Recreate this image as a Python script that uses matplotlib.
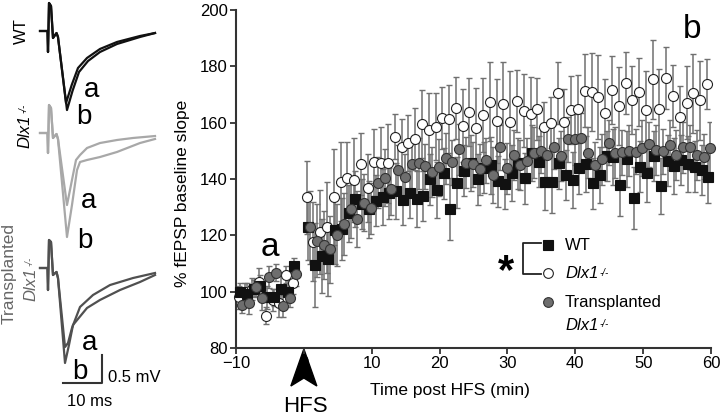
import numpy as np
import matplotlib.pyplot as plt
from matplotlib.lines import Line2D
from matplotlib.patches import Polygon
import matplotlib.transforms as mtransforms

plt.rcParams['font.family'] = ['Liberation Sans', 'DejaVu Sans']

W, H = 720, 418

# ---- data: % fEPSP slope vs time (min) ----
t_base = np.arange(-9.5, -1, 1.0)   # baseline samples
t_post = np.arange(0.5, 60, 1.0)    # samples after HFS

wt_base = [100, 99, 101, 102, 98, 98, 101, 100, 109]
wt_post = [123.1, 109.5, 112.7, 111.5, 121.9, 122.1, 127.8, 132.9, 131.1, 129.2,
           132.3, 133.5, 134.9, 135.7, 132.5, 135.1, 132.8, 134.0, 139.9, 136.1,
           142.0, 129.2, 138.7, 142.9, 145.6, 139.9, 144.0, 144.8, 139.2, 138.2,
           142.2, 145.6, 140.2, 149.3, 146.1, 139.0, 139.0, 145.6, 141.4, 139.6,
           143.8, 145.3, 138.5, 141.4, 148.2, 147.9, 137.9, 147.0, 133.3, 144.4,
           142.0, 148.2, 137.5, 146.5, 144.6, 146.7, 145.3, 144.4, 143.2, 140.6]
wt_base_err = [3, 4, 3, 4, 4, 3, 5, 4, 3]
wt_post_err = [12, 15, 13, 13, 12, 11, 10, 10, 9, 10, 9, 10, 9, 10, 9, 9, 10, 9, 9, 10,
               9, 11, 9, 9, 10, 9, 9, 10, 9, 9, 10, 9, 9, 10, 9, 10, 11, 9, 9, 10,
               9, 10, 9, 10, 9, 10, 11, 10, 11, 9, 10, 9, 10, 9, 10, 9, 10, 9, 9, 9]

ko_base = [98, 100, 101, 103.5, 91.5, 97, 96, 106, 103]
ko_post = [133.5, 117.7, 121.1, 122.8, 133.7, 139.0, 140.2, 139.6, 145.2, 136.7,
           145.9, 145.6, 145.6, 155.0, 151.2, 152.7, 154.1, 159.5, 157.4, 158.6,
           161.5, 161.2, 165.1, 158.9, 163.7, 158.2, 162.7, 167.4, 160.6, 166.5,
           160.3, 167.7, 164.2, 163.1, 164.7, 158.3, 160.0, 170.4, 160.1, 164.5,
           164.8, 171.3, 170.9, 169.2, 163.5, 171.6, 165.9, 174.2, 168.0, 170.9,
           164.5, 175.4, 164.9, 175.7, 169.5, 162.1, 167.1, 170.4, 168.0, 173.7]
ko_base_err = [4, 3, 4, 5, 3, 4, 5, 3, 4]
ko_post_err = [13, 14, 15, 16, 17, 14, 13, 15, 11, 12, 12, 13, 14, 8, 10, 10, 11, 12, 13, 12,
               11, 12, 11, 13, 12, 14, 13, 14, 15, 15, 18, 11, 13, 13, 11, 9, 9, 11, 12, 12,
               12, 13, 14, 15, 12, 12, 14, 11, 12, 12, 14, 14, 14, 11, 11, 11, 13, 14, 14, 9]

tr_base = [95.3, 96.1, 101.5, 97.6, 105.2, 106.7, 94.9, 97.6, 106.1]
tr_post = [122.8, 118.1, 116.6, 115.0, 120.1, 124.0, 129.2, 125.7, 131.6, 129.6,
           138.7, 140.5, 136.3, 143.2, 140.8, 145.3, 145.6, 144.6, 142.5, 144.1,
           147.3, 145.9, 150.5, 145.8, 145.3, 143.4, 146.6, 141.4, 151.2, 143.8,
           148.5, 145.0, 146.5, 149.3, 150.0, 148.5, 151.5, 148.2, 154.1, 154.1,
           154.4, 149.3, 145.0, 147.0, 152.9, 149.3, 149.5, 150.0, 149.7, 150.9,
           152.4, 150.3, 149.9, 152.1, 148.5, 151.2, 151.2, 148.5, 147.9, 151.1]
tr_base_err = [3, 4, 3, 4, 4, 3, 4, 3, 4]
tr_post_err = [13, 13, 12, 12, 11, 11, 10, 10, 10, 9, 9, 10, 9, 9, 8, 9, 9, 8, 9, 10,
               9, 8, 9, 9, 8, 9, 8, 10, 8, 9, 9, 9, 8, 9, 8, 10, 8, 9, 8, 9,
               9, 9, 8, 9, 8, 9, 8, 9, 8, 10, 8, 9, 8, 9, 9, 9, 8, 9, 8, 9]

# ---- example fEPSP traces (ms, mV), a = before, b = after HFS ----
stim_ms = [-2.05, -0.13, 0.0, 0.26, 0.77, 1.28, 2.18, 2.56]
wt_stim_mv = [0, 0, -0.375, 0.5, 0.446, -0.125, -0.036, -0.107]
wt_a_ms = [4.62, 6.08, 7.69, 10.0, 13.33, 17.69, 23.59, 27.44]
wt_a_mv = [-1.286, -0.964, -0.661, -0.482, -0.321, -0.196, -0.089, -0.036]
wt_b_ms = [4.87, 6.28, 7.95, 10.26, 13.33, 17.69, 23.59, 27.44]
wt_b_mv = [-1.411, -1.071, -0.732, -0.536, -0.375, -0.232, -0.107, -0.036]

ko_stim_mv = [0, 0, -0.357, 0.5, 0.446, -0.089, -0.018, -0.107]
ko_a_ms = [4.87, 6.15, 7.18, 8.21, 10.0, 13.33, 17.69, 21.79, 27.44]
ko_a_mv = [-1.286, -0.839, -0.482, -0.393, -0.268, -0.179, -0.125, -0.089, -0.054]
ko_b_ms = [4.87, 6.15, 7.44, 8.21, 10.0, 13.33, 17.69, 23.59, 27.44]
ko_b_mv = [-1.857, -1.286, -0.661, -0.518, -0.482, -0.429, -0.339, -0.179, -0.107]

tr_stim_mv = [0, 0, -0.393, 0.5, 0.464, -0.125, -0.071, -0.179]
tr_a_ms = [4.36, 5.13, 6.15, 8.21, 11.54, 15.9, 21.79, 27.44]
tr_a_mv = [-1.411, -1.339, -1.071, -0.696, -0.482, -0.304, -0.179, -0.089]
tr_b_ms = [4.36, 5.38, 6.41, 10.0, 13.33, 18.46, 23.59, 27.44]
tr_b_mv = [-1.696, -1.375, -1.018, -0.714, -0.571, -0.393, -0.25, -0.125]


def fx(x):
    return x / W


def fy(y):
    return 1 - y / H


fig = plt.figure(figsize=(7.2, 4.18), dpi=100)


def dlx(x, y, rot=0, color='black', size=12):
    # italic gene name with a small "-/-" superscript
    if rot == 0:
        t = fig.text(fx(x), fy(y), 'Dlx1', fontsize=size, style='italic', ha='left',
                     va='center', color=color)
        plt.annotate('-/-', xy=(1, 0.92), xycoords=t, xytext=(1, 0), textcoords='offset points',
                     fontsize=7, style='italic', ha='left', va='top', color=color)
    else:
        t = fig.text(fx(x), fy(y), 'Dlx1', fontsize=size, style='italic', ha='center',
                     va='center', rotation=90, color=color)
        plt.annotate('-/-', xy=(0.08, 1), xycoords=t, xytext=(0, 1), textcoords='offset points',
                     fontsize=7, style='italic', rotation=90, ha='left', va='bottom',
                     color=color)


# ================= main time course =================
ax = fig.add_axes([fx(236), fy(348), 475 / W, 338 / H])

series = [
    (ko_base, ko_post, ko_base_err, ko_post_err, -0.1, dict(marker='o', mfc='white', mec='#222', ms=7.2)),
    (wt_base, wt_post, wt_base_err, wt_post_err, 0.1, dict(marker='s', mfc='#111', mec='#111', ms=6.8)),
    (tr_base, tr_post, tr_base_err, tr_post_err, 0.4, dict(marker='o', mfc='#6e6e6e', mec='#333', ms=7.2)),
]
for yb, yp, eb, ep, shift, style in series:
    t = np.concatenate([t_base, t_post]) + shift
    y = np.concatenate([yb, yp])
    e = np.concatenate([eb, ep])
    _, caps, bars = ax.errorbar(t, y, yerr=e, fmt='none', ecolor='#707070',
                                elinewidth=1.1, capsize=2.2, capthick=1, zorder=2)
    for c in caps:
        c.set_color('#333')
for yb, yp, eb, ep, shift, style in series:
    t = np.concatenate([t_base, t_post]) + shift
    y = np.concatenate([yb, yp])
    ax.plot(t, y, ls='none', mew=0.8, zorder=3, clip_on=False, **style)

ax.set_xlim(-10, 60)
ax.set_ylim(80, 200)
ax.set_xticks(range(-10, 61, 10))
ax.set_yticks(range(80, 201, 20))
for s in ['top', 'right']:
    ax.spines[s].set_visible(False)
for s in ['left', 'bottom']:
    ax.spines[s].set_linewidth(1.5)
    ax.spines[s].set_color('#333')
ax.tick_params(direction='out', length=4, width=1.3, color='#333', labelsize=12, pad=2)

fig.text(fx(450), fy(390), 'Time post HFS (min)', fontsize=12.5, ha='center', va='center')
fig.text(fx(183), fy(193), '% fEPSP baseline slope', fontsize=12.5, ha='center', va='center',
         rotation=90)

# HFS arrowhead under x = 0
arrow_tr = mtransforms.Affine2D() + mtransforms.ScaledTranslation(0, 80, ax.transData)
ax.add_patch(Polygon([(0, -1), (-13, -38), (0, -30), (13, -38)], closed=True,
                     transform=arrow_tr, facecolor='black', edgecolor='black', clip_on=False))
fig.text(fx(305), fy(406), 'HFS', fontsize=16, ha='center', va='center')

fig.text(fx(270), fy(247), 'a', fontsize=24, ha='center', va='center')
fig.text(fx(692), fy(30), 'b', fontsize=24, ha='center', va='center')

# legend with significance bracket
leg = [('s', '#111', '#111', 245),
       ('o', 'white', '#222', 273),
       ('o', '#6e6e6e', '#333', 302)]
for m, fc, ec, yy in leg:
    fig.add_artist(Line2D([fx(548)], [fy(yy)], marker=m, mfc=fc, mec=ec, ms=7, mew=0.8, ls='none'))
fig.text(fx(565), fy(245), 'WT', fontsize=12, ha='left', va='center')
dlx(565, 274)
fig.text(fx(565), fy(302), 'Transplanted', fontsize=12, ha='left', va='center')
dlx(565, 325)
fig.add_artist(Line2D([fx(541), fx(523), fx(523), fx(541)], [fy(243), fy(243), fy(274), fy(274)],
                      color='#222', lw=1.3))
fig.text(fx(506), fy(283), '*', fontsize=30, fontweight='bold', ha='center', va='baseline')

# ================= example traces =================
axl = fig.add_axes([0, 0, 180 / W, 1])
axl.set_xlim(-48 / 3.9, (180 - 48) / 3.9)
axl.set_ylim(-H / 56, 0)
axl.axis('off')

traces = [
    (31, wt_stim_mv, wt_a_ms, wt_a_mv, wt_b_ms, wt_b_mv, '#111'),
    (133, ko_stim_mv, ko_a_ms, ko_a_mv, ko_b_ms, ko_b_mv, '#a8a8a8'),
    (268, tr_stim_mv, tr_a_ms, tr_a_mv, tr_b_ms, tr_b_mv, '#505050'),
]
for base_px, smv, ams, amv, bms, bmv, col in traces:
    off = -base_px / 56
    for ms_, mv_ in [(ams, amv), (bms, bmv)]:
        xs = list(stim_ms) + list(ms_)
        ys = np.array(list(smv) + list(mv_)) + off
        axl.plot(xs, ys, color=col, lw=1.6, solid_joinstyle='round')

# scale bar 10 ms / 0.5 mV
sb_x, sb_y = (63 - 48) / 3.9, -383 / 56
axl.plot([sb_x, sb_x + 10, sb_x + 10], [sb_y, sb_y, sb_y + 0.5], color='#333', lw=1.5)
fig.text(fx(108), fy(377), '0.5 mV', fontsize=12, ha='left', va='center')
fig.text(fx(90), fy(401), '10 ms', fontsize=12, ha='center', va='center')

for (xa, ya), (xb, yb) in [((92, 90), (84, 117)), ((89, 201), (85, 241)), ((90, 343), (80, 372))]:
    fig.text(fx(xa), fy(ya), 'a', fontsize=20, ha='center', va='center')
    fig.text(fx(xb), fy(yb), 'b', fontsize=20, ha='center', va='center')

fig.text(fx(21), fy(31), 'WT', fontsize=12, rotation=90, ha='center', va='center')
dlx(25, 131, rot=90)
fig.text(fx(9), fy(274), 'Transplanted', fontsize=12.5, rotation=90, ha='center', va='center',
         color='#666')
dlx(31, 284, rot=90, color='#666')

fig.savefig('out.png', dpi=100)
